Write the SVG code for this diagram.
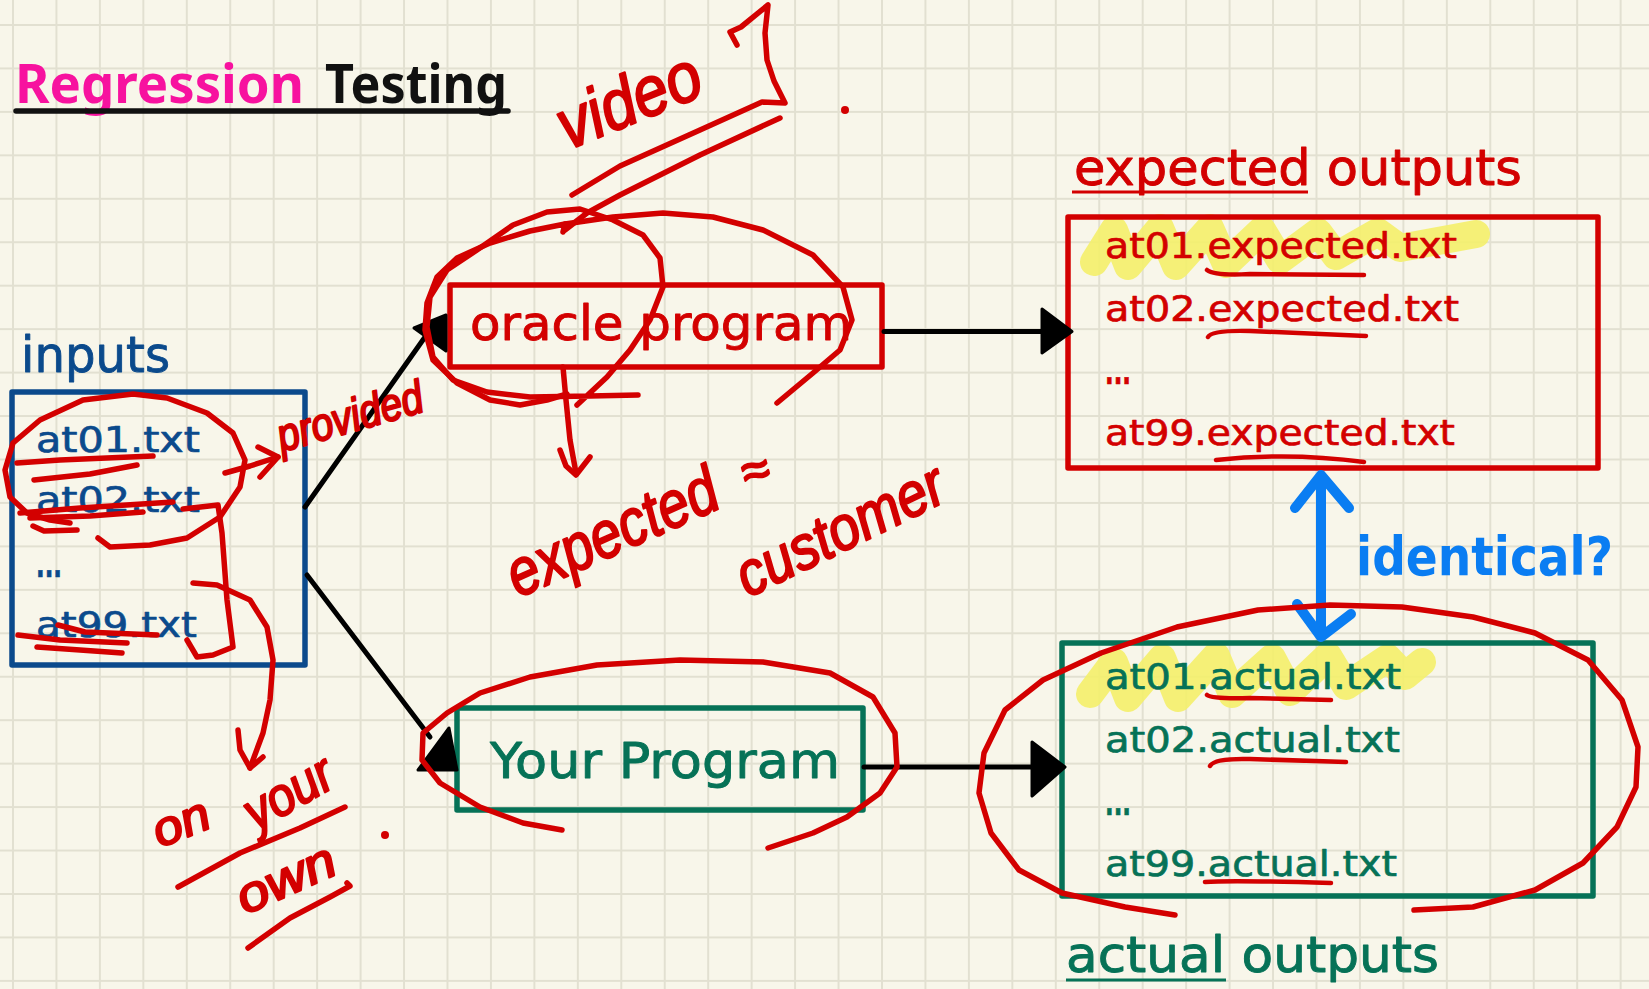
<svg xmlns="http://www.w3.org/2000/svg" width="1649" height="989" viewBox="0 0 1649 989">
  <defs>
    <pattern id="grid" x="12" y="24" width="43.45" height="43.45" patternUnits="userSpaceOnUse">
      <rect x="0" y="0" width="2" height="43.45" fill="#e2e0d1"/>
      <rect x="0" y="0" width="43.45" height="2" fill="#e2e0d1"/>
    </pattern>
    <style>
      .lbl { font-family: "DejaVu Sans", "Noto Sans", sans-serif; stroke-width: 0.9; stroke-linejoin: round; }
      .ttl { font-family: "Noto Sans", "DejaVu Sans", sans-serif; font-size: 54px; font-weight: bold; }
      .item { font-family: "DejaVu Sans", "Noto Sans", sans-serif; font-size: 36px; stroke-width: 0.7; stroke-linejoin: round; }
      .dots { font-weight: bold; }
      .blue { fill: #0b4a8c; stroke: #0b4a8c; }
      .red { fill: #d30000; stroke: #d30000; }
      .green { fill: #067257; stroke: #067257; }
      .box { fill: none; stroke-width: 5.5; stroke-linejoin: round; }
      .conn { fill: none; stroke: #000; stroke-width: 5; stroke-linecap: round; }
      .head { fill: #000; stroke: #000; stroke-width: 3; stroke-linejoin: round; }
      .ink { fill: none; stroke: #d30000; stroke-width: 5.5; stroke-linecap: round; stroke-linejoin: round; }
      .ul { fill: none; stroke: #d30000; stroke-width: 4.5; stroke-linecap: round; stroke-linejoin: round; }
      .hand { font-family: "Liberation Sans", "DejaVu Sans", sans-serif; font-style: italic; fill: #d30000; stroke: #d30000; stroke-width: 2.2; stroke-linejoin: round; }
      .hl { fill: none; stroke: #f4f06a; stroke-opacity: 0.9; stroke-width: 28; stroke-linecap: round; stroke-linejoin: round; }
    </style>
  </defs>

  <!-- paper -->
  <rect width="1649" height="989" fill="#f8f6ea"/>
  <rect width="1649" height="989" fill="url(#grid)"/>

  <!-- heading -->
  <g id="title">
    <text class="ttl" x="15" y="103" fill="#f7129f" textLength="289" lengthAdjust="spacingAndGlyphs">Regression</text>
    <text class="ttl" x="325" y="103" fill="#111" textLength="182" lengthAdjust="spacingAndGlyphs">Testing</text>
    <line x1="16" y1="111" x2="508" y2="111" stroke="#111" stroke-width="5.5" stroke-linecap="round"/>
  </g>

  <!-- highlighter marks under the first output lines -->
  <g id="highlights">
    <polyline class="hl" points="1094,262 1114,230 1128,266 1160,228 1176,266 1210,228 1226,264 1262,230 1280,260 1318,232 1336,256 1378,232 1400,248 1476,234"/>
    <polyline class="hl" points="1090,694 1114,662 1128,698 1162,658 1178,698 1216,656 1232,694 1272,658 1290,692 1328,656 1346,686 1388,658 1405,676 1422,662"/>
  </g>

  <!-- inputs -->
  <g id="node-inputs">
    <text class="lbl blue" x="21" y="372" font-size="50" textLength="149" lengthAdjust="spacingAndGlyphs">inputs</text>
    <rect class="box" x="12" y="392" width="293" height="273" stroke="#0b4a8c"/>
    <text class="item blue" x="36" y="452" textLength="164" lengthAdjust="spacingAndGlyphs">at01.txt</text>
    <text class="item blue" x="36" y="512" textLength="164" lengthAdjust="spacingAndGlyphs">at02.txt</text>
    <text class="item blue dots" x="36" y="577" textLength="26" lengthAdjust="spacingAndGlyphs">...</text>
    <text class="item blue" x="36" y="637" textLength="161" lengthAdjust="spacingAndGlyphs">at99.txt</text>
  </g>

  <!-- oracle program -->
  <g id="node-oracle">
    <rect class="box" x="450" y="285" width="432" height="82" stroke="#d30000"/>
    <text class="lbl red" x="470" y="340" font-size="48" textLength="382" lengthAdjust="spacingAndGlyphs">oracle program</text>
  </g>

  <!-- your program -->
  <g id="node-your-program">
    <rect class="box" x="457" y="708" width="406" height="102" stroke="#067257"/>
    <text class="lbl green" x="490" y="778" font-size="50" textLength="350" lengthAdjust="spacingAndGlyphs">Your Program</text>
  </g>

  <!-- expected outputs -->
  <g id="node-expected">
    <text class="lbl red" x="1074" y="185" font-size="50" textLength="448" lengthAdjust="spacingAndGlyphs">expected outputs</text>
    <line x1="1072" y1="192" x2="1308" y2="192" stroke="#d30000" stroke-width="3"/>
    <rect class="box" x="1068" y="217" width="530" height="251" stroke="#d30000"/>
    <text class="item red" x="1105" y="258" textLength="352" lengthAdjust="spacingAndGlyphs">at01.expected.txt</text>
    <text class="item red" x="1105" y="321" textLength="354" lengthAdjust="spacingAndGlyphs">at02.expected.txt</text>
    <text class="item red dots" x="1105" y="384" textLength="26" lengthAdjust="spacingAndGlyphs">...</text>
    <text class="item red" x="1105" y="445" textLength="350" lengthAdjust="spacingAndGlyphs">at99.expected.txt</text>
  </g>

  <!-- actual outputs -->
  <g id="node-actual">
    <rect class="box" x="1062" y="643" width="531" height="253" stroke="#067257"/>
    <text class="item green" x="1105" y="689" textLength="296" lengthAdjust="spacingAndGlyphs">at01.actual.txt</text>
    <text class="item green" x="1105" y="752" textLength="295" lengthAdjust="spacingAndGlyphs">at02.actual.txt</text>
    <text class="item green dots" x="1105" y="815" textLength="26" lengthAdjust="spacingAndGlyphs">...</text>
    <text class="item green" x="1105" y="876" textLength="292" lengthAdjust="spacingAndGlyphs">at99.actual.txt</text>
    <text class="lbl green" x="1066" y="972" font-size="50" textLength="373" lengthAdjust="spacingAndGlyphs">actual outputs</text>
    <line x1="1066" y1="980" x2="1226" y2="980" stroke="#067257" stroke-width="3"/>
  </g>

  <!-- connectors -->
  <g id="connectors">
    <line class="conn" x1="305" y1="507" x2="425" y2="337"/>
    <polygon class="head" points="414,328 446,315 446,351"/>
    <line class="conn" x1="307" y1="575" x2="430" y2="737"/>
    <polygon class="head" points="418,770 449,728 457,770"/>
    <line class="conn" x1="884" y1="331.5" x2="1045" y2="331.5"/>
    <polygon class="head" points="1042,309 1072,331.5 1042,353"/>
    <line class="conn" x1="864" y1="767" x2="1035" y2="767"/>
    <polygon class="head" points="1032,742 1065,767 1032,796"/>
    <g fill="none" stroke="#0a7df2" stroke-width="10" stroke-linecap="round" stroke-linejoin="round">
      <line x1="1321" y1="478" x2="1321" y2="634"/>
      <polyline points="1295,508 1321,475 1349,508"/>
      <polyline points="1297,604 1321,637 1351,614"/>
    </g>
    <text class="lbl" x="1356" y="575" font-size="54" font-weight="bold" fill="#0a7df2" textLength="257" lengthAdjust="spacingAndGlyphs">identical?</text>
  </g>

  <!-- red pen notes -->
  <g id="annotations">
    <!-- underlines on the file names -->
    <path class="ul" d="M1207,270 Q1215,276 1250,274 L1364,275"/>
    <path class="ul" d="M1208,337 Q1212,330 1250,331 L1366,336"/>
    <path class="ul" d="M1216,460 Q1290,452 1364,462"/>
    <path class="ul" d="M1207,695 Q1212,699 1250,698 L1331,700"/>
    <path class="ul" d="M1210,766 Q1214,758 1250,759 L1346,762"/>
    <path class="ul" d="M1205,882 Q1230,880 1331,883"/>

    <!-- inputs: loop, strokes, bracket, arrows -->
    <polyline class="ink" points="98,538 110,547 150,545 187,538 220,517 240,487 245,460 233,433 207,413 167,398 133,394 83,400 40,420 13,443 5,470 10,497 27,513 50,520 70,523"/>
    <polyline class="ink" points="17,463 60,460 153,456"/>
    <polyline class="ink" points="34,480 90,474 137,465"/>
    <polyline class="ink" points="20,513 80,508 173,502"/>
    <polyline class="ink" points="30,518 90,516 143,512"/>
    <polyline class="ink" points="33,526 44,531 77,530"/>
    <polyline class="ink" points="58,625 85,632 157,635"/>
    <polyline class="ink" points="18,635 60,640 127,643"/>
    <polyline class="ink" points="37,647 80,650 122,653"/>
    <polyline class="ink" points="183,509 218,505 222,533 227,600 233,647 213,655 197,657 187,640"/>
    <polyline class="ink" points="193,583 217,585 250,600 267,627 273,660 270,700 263,733 250,768"/>
    <polyline class="ink" points="238,730 240,750 250,768 263,757"/>
    <polyline class="ink" points="225,473 250,466 278,457"/>
    <polyline class="ink" points="258,447 278,457 260,477"/>
    <text class="hand" font-size="46" textLength="150" lengthAdjust="spacingAndGlyphs" transform="translate(282,452) rotate(-16)">provided</text>

    <!-- oracle: loops and the note below -->
    <polyline class="ink" points="638,395 590,396 530,397 487,392 453,380 433,357 427,327 430,297 447,270 477,250 513,225 547,212 580,209 613,220 643,235 660,258 663,287 650,320 630,350 607,377 577,405"/>
    <polyline class="ink" points="563,232 565,224 530,231 490,243 457,258 437,277 427,303 425,330 433,360 457,383 490,400 520,405 547,400 567,394"/>
    <polyline class="ink" points="565,224 613,217 663,213 713,217 763,230 813,255 843,287 852,320 840,350 813,373 777,403"/>
    <polyline class="ink" points="563,367 566,400 570,440 576,473"/>
    <polyline class="ink" points="560,450 566,466 576,475 590,457"/>
    <text class="hand" font-size="66" textLength="225" lengthAdjust="spacingAndGlyphs" transform="translate(518,598) rotate(-24)">expected</text>
    <text class="hand" font-size="50" transform="translate(746,490) rotate(-15)">≈</text>
    <text class="hand" font-size="62" textLength="225" lengthAdjust="spacingAndGlyphs" transform="translate(748,598) rotate(-26)">customer</text>

    <!-- video note above the oracle -->
    <text class="hand" font-size="70" textLength="150" lengthAdjust="spacingAndGlyphs" transform="translate(568,150) rotate(-22)">video</text>
    <polyline class="ink" points="737,45 730,32 741,27 768,5 765,33 767,60 774,81 785,103 762,102 700,130 620,166 572,195"/>
    <polyline class="ink" points="780,118 700,155 620,195 587,213 565,230"/>
    <circle cx="845" cy="110" r="4" fill="#d30000"/>

    <!-- your program loop and note -->
    <polyline class="ink" points="562,830 523,823 480,807 440,783 422,760 423,733 447,713 480,693 530,677 597,665 680,660 763,662 830,673 873,697 895,733 897,767 880,793 847,817 813,833 768,848"/>
    <text class="hand" font-size="48" textLength="58" lengthAdjust="spacingAndGlyphs" transform="translate(160,848) rotate(-22)">on</text>
    <text class="hand" font-size="54" textLength="95" lengthAdjust="spacingAndGlyphs" transform="translate(256,832) rotate(-30)">your</text>
    <text class="hand" font-size="50" textLength="104" lengthAdjust="spacingAndGlyphs" transform="translate(245,915) rotate(-24)">own</text>
    <polyline class="ink" points="178,887 240,853 300,828 345,807"/>
    <polyline class="ink" points="248,948 290,918 330,897 350,886 347,883"/>
    <circle cx="385" cy="835" r="4" fill="#d30000"/>

    <!-- actual outputs loop -->
    <polyline class="ink" points="1175,915 1125,907 1062,893 1019,870 991,833 979,793 984,753 1005,710 1043,680 1101,653 1177,627 1258,610 1330,605 1402,607 1473,617 1535,633 1588,660 1622,700 1638,747 1636,787 1617,827 1583,863 1535,890 1473,907 1414,910"/>
  </g>
</svg>
